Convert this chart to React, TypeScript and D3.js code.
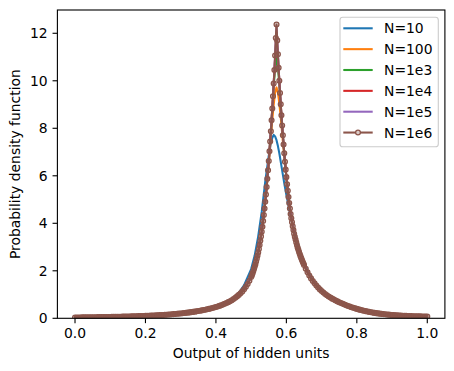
import * as d3 from "d3";

const width = 454;
const height = 371;
const plot = { left: 57.4, right: 444.9, top: 10, bottom: 318.3 };

const seriesNames = ["N=10", "N=100", "N=1e3", "N=1e4", "N=1e5", "N=1e6"];
const seriesColors = ["#1f77b4", "#ff7f0e", "#2ca02c", "#d62728", "#9467bd", "#8c564b"];

const xTicks = [0, 0.2, 0.4, 0.6, 0.8, 1.0];
const yTicks = [0, 2, 4, 6, 8, 10, 12];

// sample positions shared by the plain line series
const lineX = [
  0, 0.05, 0.1, 0.15, 0.2, 0.25, 0.3, 0.35, 0.4, 0.42, 0.44, 0.46, 0.48,
  0.5, 0.51, 0.52, 0.53, 0.54, 0.545, 0.55, 0.555, 0.56, 0.564, 0.568, 0.572,
  0.576, 0.58, 0.585, 0.59, 0.595, 0.6, 0.61, 0.62, 0.63, 0.64, 0.66, 0.68,
  0.7, 0.72, 0.75, 0.8, 0.85, 0.9, 0.95, 1.0,
];

const n10 = [
  0.035, 0.045, 0.058, 0.078, 0.105, 0.146, 0.21, 0.315, 0.49, 0.6, 0.74, 0.96, 1.4,
  2.07, 2.64, 3.45, 4.48, 5.75, 6.3, 6.85, 7.3, 7.6, 7.72, 7.66, 7.5,
  7.25, 6.95, 6.5, 6.05, 5.6, 5.2, 4.45, 3.8, 3.25, 2.8, 2.0, 1.5,
  1.17, 0.93, 0.68, 0.4, 0.23, 0.14, 0.095, 0.074,
];
const n100 = [
  0.033, 0.044, 0.057, 0.076, 0.102, 0.142, 0.205, 0.306, 0.475, 0.579, 0.72, 0.921, 1.221,
  1.737, 2.168, 2.773, 3.647, 4.9, 5.65, 6.5, 7.45, 8.35, 9.0, 9.5, 9.72,
  9.5, 9.05, 8.3, 7.45, 6.7, 5.95, 4.62, 3.714, 3.083, 2.617, 1.935, 1.471,
  1.148, 0.919, 0.677, 0.395, 0.228, 0.139, 0.094, 0.073,
];
const n1e3 = [
  0.033, 0.044, 0.057, 0.076, 0.102, 0.142, 0.205, 0.306, 0.475, 0.579, 0.72, 0.921, 1.221,
  1.737, 2.168, 2.773, 3.647, 4.904, 5.7, 6.619, 7.64, 8.78, 9.75, 10.55, 10.95,
  10.55, 9.85, 8.72, 7.68, 6.77, 5.942, 4.618, 3.714, 3.083, 2.617, 1.935, 1.471,
  1.148, 0.919, 0.677, 0.395, 0.228, 0.139, 0.094, 0.073,
];
const n1e4 = [
  0.033, 0.044, 0.057, 0.076, 0.102, 0.142, 0.205, 0.306, 0.475, 0.579, 0.72, 0.921, 1.221,
  1.737, 2.168, 2.773, 3.647, 4.904, 5.7, 6.619, 7.66, 8.829, 9.86, 10.95, 12.0,
  11.0, 9.98, 8.78, 7.706, 6.77, 5.942, 4.618, 3.714, 3.083, 2.617, 1.935, 1.471,
  1.148, 0.919, 0.677, 0.395, 0.228, 0.139, 0.094, 0.073,
];
const n1e5 = [
  0.033, 0.044, 0.057, 0.076, 0.102, 0.142, 0.205, 0.306, 0.475, 0.579, 0.72, 0.921, 1.221,
  1.737, 2.168, 2.773, 3.647, 4.904, 5.7, 6.619, 7.66, 8.829, 9.885, 11.04, 12.3,
  11.1, 10.0, 8.78, 7.706, 6.77, 5.942, 4.618, 3.714, 3.083, 2.617, 1.935, 1.471,
  1.148, 0.919, 0.677, 0.395, 0.228, 0.139, 0.094, 0.073,
];

// N=1e6 is sampled densely: every 0.005, every 0.002 around the peak
const denseX = [
  ...d3.range(100).map((i) => i * 0.005),
  ...d3.range(76).map((i) => 0.5 + i * 0.002),
  ...d3.range(70).map((i) => 0.655 + i * 0.005),
];
const n1e6 = [
  // 0.000 - 0.395
  0.033, 0.034, 0.035, 0.036, 0.037, 0.038, 0.039, 0.041, 0.042, 0.043,
  0.044, 0.045, 0.047, 0.048, 0.049, 0.051, 0.052, 0.053, 0.054, 0.056,
  0.057, 0.059, 0.06, 0.062, 0.063, 0.065, 0.067, 0.069, 0.071, 0.073,
  0.076, 0.078, 0.08, 0.083, 0.085, 0.088, 0.091, 0.093, 0.096, 0.099,
  0.102, 0.105, 0.108, 0.112, 0.115, 0.119, 0.123, 0.128, 0.132, 0.137,
  0.142, 0.147, 0.152, 0.157, 0.163, 0.169, 0.176, 0.182, 0.19, 0.197,
  0.205, 0.212, 0.221, 0.229, 0.238, 0.248, 0.258, 0.27, 0.281, 0.293,
  0.306, 0.319, 0.333, 0.347, 0.362, 0.378, 0.395, 0.414, 0.433, 0.453,
  // 0.400 - 0.495
  0.475, 0.499, 0.523, 0.549, 0.579, 0.61, 0.643, 0.68, 0.72, 0.763,
  0.808, 0.861, 0.921, 0.986, 1.054, 1.133, 1.221, 1.324, 1.442, 1.579,
  // 0.500 - 0.572
  1.737, 1.804, 1.889, 1.978, 2.071, 2.168, 2.27, 2.387, 2.509, 2.638,
  2.773, 2.915, 3.083, 3.261, 3.449, 3.647, 3.857, 4.096, 4.349, 4.618,
  4.904, 5.207, 5.529, 5.871, 6.234, 6.619, 7.029, 7.441, 7.878, 8.34,
  8.829, 9.346, 9.885, 10.45, 11.06, 11.8, 12.37,
  // 0.574 - 0.650
  11.7, 11.12, 10.55, 10.0, 9.488, 9.007, 8.551, 8.117, 7.706, 7.316,
  6.945, 6.593, 6.259, 5.942, 5.64, 5.366, 5.104, 4.855, 4.618, 4.393,
  4.212, 4.039, 3.873, 3.714, 3.561, 3.435, 3.313, 3.196, 3.083, 2.974,
  2.881, 2.79, 2.702, 2.617, 2.535, 2.46, 2.387, 2.316, 2.248,
  // 0.655 - 1.000
  2.085, 1.935, 1.8, 1.679, 1.57, 1.471, 1.379, 1.292, 1.216, 1.148,
  1.084, 1.023, 0.969, 0.919, 0.872, 0.828, 0.787, 0.748, 0.712, 0.677,
  0.643, 0.61, 0.579, 0.549, 0.52, 0.493, 0.466, 0.441, 0.418, 0.395,
  0.374, 0.354, 0.335, 0.317, 0.3, 0.284, 0.269, 0.255, 0.241, 0.228,
  0.217, 0.206, 0.196, 0.186, 0.177, 0.169, 0.16, 0.153, 0.146, 0.139,
  0.133, 0.127, 0.122, 0.117, 0.113, 0.108, 0.104, 0.101, 0.097, 0.094,
  0.091, 0.088, 0.086, 0.083, 0.081, 0.079, 0.078, 0.076, 0.074, 0.073,
];

const lineSeries = [n10, n100, n1e3, n1e4, n1e5];

const font = "DejaVu Sans";
const fontSize = 13.9;
const markerR = 2.4;

export default function App() {
  const xScale = d3.scaleLinear().domain([-0.05, 1.05]).range([plot.left, plot.right]);
  const yScale = d3.scaleLinear().domain([0, 12.98]).range([plot.bottom, plot.top]);

  const line = d3
    .line<[number, number]>()
    .x((d) => xScale(d[0]))
    .y((d) => yScale(d[1]));

  const densePts: [number, number][] = denseX.map((x, i) => [x, n1e6[i]]);

  const legendX = 340;
  const legendY = 17.3;
  const rowH = 20.85;

  return (
    <svg
      width={width}
      height={height}
      style={{ position: "absolute", left: 0, top: 0, background: "white" }}
      fontFamily={font}
    >
      <defs>
        <clipPath id="plot-clip">
          <rect x={plot.left} y={plot.top} width={plot.right - plot.left} height={plot.bottom - plot.top} />
        </clipPath>
      </defs>

      <g clipPath="url(#plot-clip)">
        {lineSeries.map((ys, k) => (
          <path
            key={seriesNames[k]}
            d={line(lineX.map((x, i) => [x, ys[i]])) ?? ""}
            fill="none"
            stroke={seriesColors[k]}
            strokeWidth={2.08}
            strokeLinejoin="round"
          />
        ))}
        <path d={line(densePts) ?? ""} fill="none" stroke={seriesColors[5]} strokeWidth={2.08} strokeLinejoin="round" />
        {densePts.map((p, i) => (
          <circle
            key={i}
            cx={xScale(p[0])}
            cy={yScale(p[1])}
            r={markerR}
            fill={seriesColors[5]}
            fillOpacity={0.3}
            stroke={seriesColors[5]}
            strokeWidth={1.3}
          />
        ))}
      </g>

      {/* axes frame */}
      <rect
        x={plot.left}
        y={plot.top}
        width={plot.right - plot.left}
        height={plot.bottom - plot.top}
        fill="none"
        stroke="black"
        strokeWidth={1.11}
      />

      {xTicks.map((t) => (
        <g key={`x-${t}`} transform={`translate(${xScale(t)},${plot.bottom})`}>
          <line y1={0} y2={4.86} stroke="black" strokeWidth={1.11} />
          <text y={20} textAnchor="middle" fontSize={fontSize}>
            {t.toFixed(1)}
          </text>
        </g>
      ))}
      {yTicks.map((t) => (
        <g key={`y-${t}`} transform={`translate(${plot.left},${yScale(t)})`}>
          <line x1={0} x2={-4.86} stroke="black" strokeWidth={1.11} />
          <text x={-9.8} y={5} textAnchor="end" fontSize={fontSize}>
            {t}
          </text>
        </g>
      ))}

      <text x={(plot.left + plot.right) / 2} y={357.5} textAnchor="middle" fontSize={fontSize}>
        Output of hidden units
      </text>
      <text
        transform={`translate(20,${(plot.top + plot.bottom) / 2}) rotate(-90)`}
        textAnchor="middle"
        fontSize={fontSize}
      >
        Probability density function
      </text>

      {/* legend */}
      <g>
        <rect
          x={legendX}
          y={legendY}
          width={98.3}
          height={129.4}
          rx={2.8}
          fill="white"
          fillOpacity={0.8}
          stroke="#cccccc"
          strokeWidth={1.11}
        />
        {seriesNames.map((name, i) => {
          const cy = 28.3 + i * rowH;
          return (
            <g key={name}>
              <line x1={343.3} x2={372.7} y1={cy} y2={cy} stroke={seriesColors[i]} strokeWidth={2.08} />
              {i === 5 && (
                <circle
                  cx={358}
                  cy={cy}
                  r={markerR}
                  fill="#dcccc9"
                  stroke={seriesColors[5]}
                  strokeWidth={1.3}
                />
              )}
              <text x={384} y={cy + 5} fontSize={fontSize}>
                {name}
              </text>
            </g>
          );
        })}
      </g>
    </svg>
  );
}
